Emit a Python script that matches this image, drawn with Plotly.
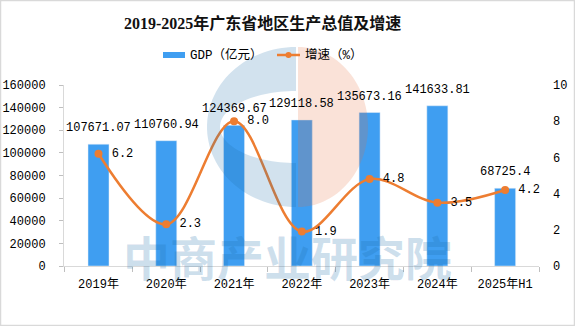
import numpy as np
import plotly.graph_objects as go

# ---- data ----
years = ["2019年", "2020年", "2021年", "2022年", "2023年", "2024年", "2025年H1"]
gdp = [107671.07, 110760.94, 124369.67, 129118.58, 135673.16, 141633.81, 68725.4]
growth = [6.2, 2.3, 8.0, 1.9, 4.8, 3.5, 4.2]
gdp_name = "GDP（亿元）"
growth_name = "增速（%）"
title_text = "2019-2025年广东省地区生产总值及增速"
watermark = "中商产业研究院"

W, H = 575, 326
L, R, T, B = 64, 539, 85, 266  # plot area in pixels

BAR = "#3f9ef1"
ORANGE = "#ed7d31"
MONO = "Liberation Mono, Noto Sans CJK SC, monospace"
FS = 12


def px(x):
    return (x - L) / (R - L)


def py(y):
    return (B - y) / (B - T)


def poly(points):
    return "M " + " L ".join(f"{px(x):.5f},{py(y):.5f}" for x, y in points) + " Z"


fig = go.Figure()

fig.add_trace(go.Bar(
    x=years, y=gdp, name=gdp_name, marker_color=BAR, width=0.31,
    yaxis="y", showlegend=False,
))
fig.add_trace(go.Scatter(
    x=years, y=growth, name=growth_name, yaxis="y2",
    mode="lines+markers+text",
    line=dict(color=ORANGE, width=2.5, shape="spline", smoothing=1.0),
    marker=dict(color=ORANGE, size=8),
    text=[f" {v:.1f}" for v in growth], textposition="middle right",
    textfont=dict(family=MONO, size=FS, color="#000000"),
    cliponaxis=False, showlegend=False,
))

annotations = []
# value labels above bars
for cat, v in zip(years, gdp):
    annotations.append(dict(
        x=cat, y=v, xref="x", yref="y", text=str(v), showarrow=False,
        yanchor="bottom", yshift=7,
        font=dict(family=MONO, size=FS, color="#000000"),
    ))

# title
annotations.append(dict(
    x=px(262), y=py(23), xref="paper", yref="paper", text=f"<b>{title_text}</b>",
    showarrow=False, xanchor="center", yanchor="middle",
    font=dict(family="Liberation Serif, Noto Sans CJK SC, serif", size=16, color="#111111"),
))

# legend texts
annotations.append(dict(
    x=px(188), y=py(55), xref="paper", yref="paper", text=gdp_name, showarrow=False,
    xanchor="left", yanchor="middle", font=dict(family=MONO, size=12.5, color="#000000"),
))
annotations.append(dict(
    x=px(303), y=py(55), xref="paper", yref="paper", text=growth_name, showarrow=False,
    xanchor="left", yanchor="middle", font=dict(family=MONO, size=12.5, color="#000000"),
))

# watermark text
annotations.append(dict(
    x=px(287), y=py(255), xref="paper", yref="paper", text=watermark, showarrow=False,
    xanchor="center", yanchor="middle",
    font=dict(family="Noto Sans CJK SC", size=47, color="rgba(30,110,170,0.22)", weight="bold"),
))

shapes = []
# watermark logo: blue half ring and peach half disc
t = np.linspace(np.pi / 2, 3 * np.pi / 2, 60)
cx, cy = 296, 127
outer = [(cx + 89 * np.cos(a), cy - 80 * np.sin(a)) for a in t]
inner = [(cx + 76 * np.cos(a), cy - 36 * np.sin(a)) for a in t[::-1]]
shapes.append(dict(type="path", xref="paper", yref="paper", path=poly(outer + inner),
                   fillcolor="rgba(30,110,170,0.2)", line=dict(width=0), layer="above"))
t2 = np.linspace(np.pi / 2, -np.pi / 2, 60)
half = [(298 + 70 * np.cos(a), cy - 80 * np.sin(a)) for a in t2]
shapes.append(dict(type="path", xref="paper", yref="paper", path=poly(half),
                   fillcolor="rgba(230,110,60,0.2)", line=dict(width=0), layer="above"))

# legend symbols
shapes.append(dict(type="rect", xref="paper", yref="paper",
                   x0=px(163), x1=px(185), y0=py(58), y1=py(52),
                   fillcolor=BAR, line=dict(width=0)))
shapes.append(dict(type="line", xref="paper", yref="paper",
                   x0=px(277), x1=px(300), y0=py(55), y1=py(55),
                   line=dict(color=ORANGE, width=2.5)))
shapes.append(dict(type="circle", xref="paper", yref="paper",
                   x0=px(285.5), x1=px(291.5), y0=py(58), y1=py(52),
                   fillcolor=ORANGE, line=dict(width=0)))
# chart border
shapes.append(dict(type="rect", xref="paper", yref="paper",
                   x0=px(0.5), x1=px(574.5), y0=py(325.5), y1=py(0.5),
                   line=dict(color="#d9d9d9", width=1.5), fillcolor="rgba(0,0,0,0)"))

fig.update_layout(
    width=W, height=H,
    margin=dict(l=L, r=W - R, t=T, b=H - B, pad=0, autoexpand=False),
    paper_bgcolor="#ffffff", plot_bgcolor="#ffffff",
    showlegend=False,
    xaxis=dict(
        type="category", showline=True, linecolor="#d9d9d9", linewidth=1,
        ticks="outside", tickson="boundaries", ticklen=5, tickcolor="#bfbfbf",
        showgrid=False, ticklabelstandoff=7, tickangle=0, automargin=False,
        tickfont=dict(family=MONO, size=FS, color="#000000"),
    ),
    yaxis=dict(
        range=[0, 160000], dtick=20000, tickformat="d", showgrid=False, zeroline=False,
        showline=True, linecolor="#d9d9d9", linewidth=1, automargin=False,
        ticks="outside", ticklen=4, tickcolor="#bfbfbf", ticklabelstandoff=11,
        tickfont=dict(family=MONO, size=FS, color="#000000"),
    ),
    yaxis2=dict(
        range=[0, 10], dtick=2, overlaying="y", side="right", showgrid=False,
        zeroline=False, showline=False, ticks="", ticklabelstandoff=13, automargin=False,
        tickfont=dict(family=MONO, size=FS, color="#000000"),
    ),
    annotations=annotations,
    shapes=shapes,
)

fig.write_html("out.html")
